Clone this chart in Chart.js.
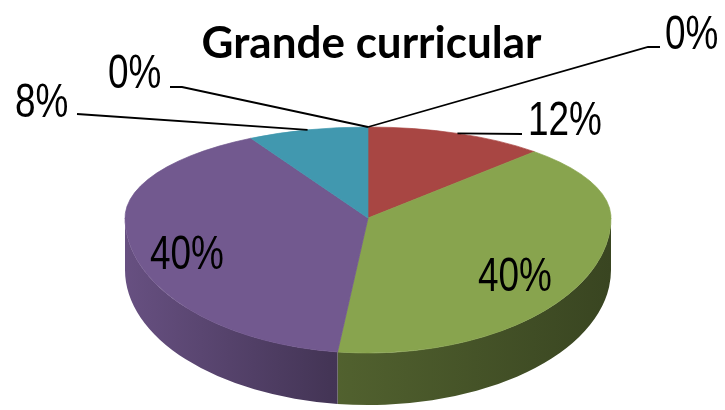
<!DOCTYPE html>
<html>
<head>
<meta charset="utf-8">
<script src="https://cdn.jsdelivr.net/npm/chart.js@4"></script>
<style>
  body { margin: 0; background: #fff; }
  canvas { display: block; }
</style>
</head>
<body>
<canvas id="pie" width="725" height="410"></canvas>
<script>
// data
const categories = ['Categoria 1', 'Categoria 2', 'Categoria 3', 'Categoria 4', 'Categoria 5', 'Categoria 6']
const values = [0, 12, 40, 40, 8, 0]
const colors = ['#4F81BD', '#A84643', '#88A44E', '#72598F', '#4198AF', '#F79646']
const title = 'Grande curricular'

// where the tilted pie sits on the page
const CX = 368, CY = 218
const RX = 243, RY_BACK = 91, RY_FRONT = 135, DEPTH = 52

// label text spots (left x, baseline) and leader start points
const labelSpots = [
    { x: 665, y: 49, lx: 660, ly: 47, elbow: -12 },
    { x: 528, y: 135, lx: 522, ly: 134, elbow: 0 },
    { x: 478, y: 291 },
    { x: 150, y: 269 },
    { x: 15, y: 117, lx: 77, ly: 114, elbow: 0 },
    { x: 108, y: 88, lx: 170, ly: 87, elbow: 12 }
]

function shade(hex, f) {
    const n = parseInt(hex.slice(1), 16)
    const r = Math.round(((n >> 16) & 255) * f)
    const g = Math.round(((n >> 8) & 255) * f)
    const b = Math.round((n & 255) * f)
    return `rgb(${r}, ${g}, ${b})`
}

// map the library's round pie onto one half of the flattened disc
function toScreen(ctx, arc, back) {
    const k = (back ? RY_BACK : RY_FRONT) / arc.outerRadius
    ctx.translate(CX, CY)
    ctx.scale(RX / arc.outerRadius, k)
    ctx.translate(-arc.x, -arc.y)
    const r = arc.outerRadius + 4
    ctx.beginPath()
    if (back) ctx.rect(arc.x - r, arc.y - r, 2 * r, r + 1 / k)
    else ctx.rect(arc.x - r, arc.y, 2 * r, r + DEPTH / k + 4)
    ctx.clip()
}

function rimPoint(arc, angle) {
    const s = Math.sin(angle)
    return [CX + RX * Math.cos(angle), CY + (s < 0 ? RY_BACK : RY_FRONT) * s]
}

const pie3d = {
    id: 'pie3d',
    beforeDatasetsDraw(chart) {
        const ctx = chart.ctx
        const arcs = chart.getDatasetMeta(0).data
        const a0 = arcs[0]
        const r = a0.outerRadius
        const dz = DEPTH / (RY_FRONT / r)

        // side wall, front half only
        ctx.save()
        toScreen(ctx, a0, false)
        arcs.forEach((arc, i) => {
            const s = Math.max(arc.startAngle, 0)
            const e = Math.min(arc.endAngle, Math.PI)
            if (e <= s) return
            const g = ctx.createLinearGradient(a0.x - r, 0, a0.x + r, 0)
            g.addColorStop(0, shade(colors[i], 0.9))
            g.addColorStop(0.42, shade(colors[i], 0.6))
            g.addColorStop(1, shade(colors[i], 0.42))
            ctx.fillStyle = g
            ctx.beginPath()
            ctx.arc(a0.x, a0.y, r, s, e)
            ctx.arc(a0.x, a0.y + dz, r, e, s, true)
            ctx.closePath()
            ctx.fill()
        })
        ctx.restore()

        // top face, back half drawn by the library
        ctx.save()
        toScreen(ctx, a0, true)
    },
    afterDatasetsDraw(chart) {
        const ctx = chart.ctx
        const meta = chart.getDatasetMeta(0)
        ctx.restore()

        // top face, front half
        ctx.save()
        toScreen(ctx, meta.data[0], false)
        meta.controller.draw()
        ctx.restore()

        // percentages and leader lines
        const total = values.reduce((a, b) => a + b, 0)
        ctx.save()
        ctx.strokeStyle = '#000'
        ctx.lineWidth = 1.8
        ctx.fillStyle = '#000'
        ctx.font = '48px "Liberation Sans", Arial, sans-serif'
        ctx.textBaseline = 'alphabetic'
        meta.data.forEach((arc, i) => {
            const spot = labelSpots[i]
            if (spot.lx !== undefined) {
                const [px, py] = rimPoint(arc, (arc.startAngle + arc.endAngle) / 2)
                ctx.beginPath()
                ctx.moveTo(spot.lx, spot.ly)
                ctx.lineTo(spot.lx + spot.elbow, spot.ly)
                ctx.lineTo(px, py)
                ctx.stroke()
            }
            // narrow face: squeeze the text sideways
            ctx.save()
            ctx.translate(spot.x, spot.y)
            ctx.scale(0.77, 1)
            ctx.fillText(Math.round(values[i] / total * 100) + '%', 0, 0)
            ctx.restore()
        })
        ctx.restore()
    }
}

const ctx = document.getElementById('pie').getContext('2d')
const pie_chart = new Chart(ctx, {
    type: 'pie',
    data: {
        labels: categories,
        datasets: [{
            data: values,
            backgroundColor: colors,
            borderColor: colors,
            borderWidth: 1,
            clip: false
        }]
    },
    options: {
        responsive: false,
        animation: false,
        radius: 243,
        layout: { padding: { left: 18, right: 0, top: 0, bottom: 0 } },
        plugins: {
            legend: { display: false },
            tooltip: { enabled: false },
            title: {
                display: true,
                text: title,
                color: '#000',
                font: { family: 'Lato', size: 44, weight: 'bold' },
                padding: { top: 17, bottom: 10 }
            }
        }
    },
    plugins: [pie3d]
})
</script>
</body>
</html>
